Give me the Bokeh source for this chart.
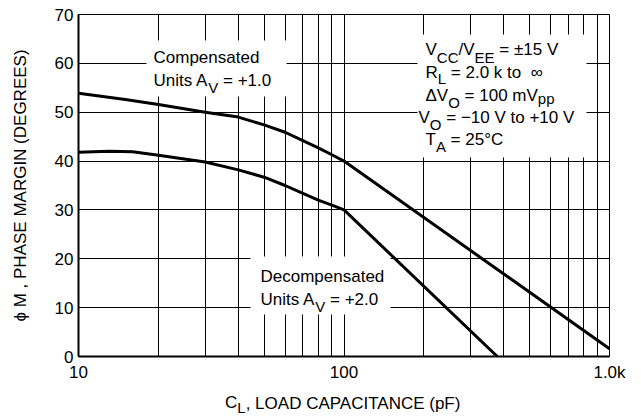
from bokeh.plotting import figure
from bokeh.models import Label, BoxAnnotation, FixedTicker, Range1d
from bokeh.embed import file_html
from bokeh.resources import INLINE

# ---------------- data ----------------
cap_comp = [10, 15, 20, 30, 40, 50, 60, 70, 80, 90, 100, 1000]
phase_comp = [53.9, 52.6, 51.6, 50.0, 49.0, 47.4, 45.9, 44.2, 42.7, 41.3, 40.0, 1.6]

cap_decomp = [10, 13, 16, 20, 30, 40, 50, 60, 70, 80, 90, 100, 378]
phase_decomp = [41.8, 42.0, 41.9, 41.2, 39.8, 38.2, 36.7, 35.0, 33.4, 32.0, 31.0, 30.0, 0.0]

x_ticks = [10, 100, 1000]
x_tick_labels = ["10", "100", "1.0k"]
x_minor = [20, 30, 40, 50, 60, 70, 80, 90, 200, 300, 400, 500, 600, 700, 800, 900]
y_ticks = [0, 10, 20, 30, 40, 50, 60, 70]

FONT = "Liberation Sans"
FS = 17
SUB = 15

# Arial / Liberation Sans advance widths (per 1000 em)
W = {' ': 278, ',': 278, '.': 278, '/': 278, '+': 584, '=': 584, '\u00b1': 584,
     '\u2212': 584, '-': 333, '(': 333, ')': 333, '\u00b0': 400, '\u221e': 713, '\u0394': 668,
     'A': 667, 'B': 667, 'C': 722, 'D': 722, 'E': 667, 'F': 611, 'G': 778, 'H': 722, 'I': 278,
     'K': 667, 'L': 556, 'M': 833, 'N': 722, 'O': 778, 'P': 667, 'R': 722, 'S': 667, 'T': 611,
     'U': 722, 'V': 667, 'a': 556, 'c': 500, 'd': 556, 'e': 556, 'i': 222, 'k': 500, 'm': 833,
     'n': 556, 'o': 556, 'p': 556, 's': 500, 't': 278}
for d in '0123456789':
    W[d] = 556


def tw(s, size):
    return sum(W.get(c, 556) for c in s) * size / 1000.0


# frame position in page pixels
FX, FY, FR = 78, 356, 609
H = 419
BFIX = 6   # measured: labels render this much below the requested baseline

p = figure(width=641, height=H, x_axis_type="log",
           x_range=Range1d(10, 1000), y_range=Range1d(0, 70),
           output_backend="svg", toolbar_location=None,
           min_border_left=78, min_border_right=32,
           min_border_top=14, min_border_bottom=63)

p.background_fill_color = "white"
p.border_fill_color = "white"
p.outline_line_color = "black"
p.outline_line_width = 1

xt = FixedTicker(ticks=x_ticks, minor_ticks=x_minor)
yt = FixedTicker(ticks=y_ticks)
p.xaxis.ticker = xt
p.yaxis.ticker = yt
p.xgrid.ticker = xt
p.ygrid.ticker = yt
p.xaxis.major_label_overrides = dict(zip(x_ticks, x_tick_labels))

p.xgrid.grid_line_color = "black"
p.xgrid.minor_grid_line_color = "black"
p.ygrid.grid_line_color = "black"
p.xgrid.grid_line_width = 1
p.ygrid.grid_line_width = 1

for ax in (p.xaxis, p.yaxis):
    ax.major_tick_in = 0
    ax.major_tick_out = 0
    ax.minor_tick_in = 0
    ax.minor_tick_out = 0
    ax.axis_line_width = 2
    ax.axis_line_color = "black"
    ax.major_label_text_font = FONT
    ax.major_label_text_font_size = f"{FS}px"
    ax.major_label_text_color = "black"
p.xaxis.major_label_standoff = 6
p.yaxis.major_label_standoff = 5

p.yaxis.axis_label = "\u03d5 M , PHASE MARGIN (DEGREES)"
p.yaxis.axis_label_text_font = FONT
p.yaxis.axis_label_text_font_size = f"{FS}px"
p.yaxis.axis_label_text_font_style = "normal"
p.yaxis.axis_label_text_color = "black"
p.yaxis.axis_label_standoff = 22

p.line(cap_comp, phase_comp, line_color="black", line_width=3, line_join="round")
p.line(cap_decomp, phase_decomp, line_color="black", line_width=3, line_join="round")


def box(l, t, r, b):
    p.add_layout(BoxAnnotation(left=l - FX, right=r - FX, top=FY - t, bottom=FY - b,
                               left_units="screen", right_units="screen",
                               top_units="screen", bottom_units="screen",
                               fill_color="white", fill_alpha=1.0, line_color=None))


def mk(text, x, y, size):
    return Label(x=x, y=y + BFIX, x_units="screen", y_units="screen", text=text,
                 text_font=FONT, text_font_size=f"{size}px",
                 text_color="black", text_baseline="alphabetic", text_align="left")


def run(x, y, parts):
    for text, size, dy in parts:
        lead = len(text) - len(text.lstrip(' '))
        t = text.strip(' ')
        if t:
            p.add_layout(mk(t, x + tw(' ' * lead, size) - FX, FY - (y + dy), size))
        x += tw(text, size)


box(146, 40, 286, 96)
run(153, 63, [("Compensated", FS, 0)])
run(153, 86, [("Units A", FS, 0), ("V", SUB, 7), (" = +1.0", FS, 0)])

box(250, 256, 390, 314)
run(260, 282, [("Decompensated", FS, 0)])
run(260, 305, [("Units A", FS, 0), ("V", SUB, 7), (" = +2.0", FS, 0)])

box(417, 34, 586, 157)
run(425, 55, [("V", FS, 0), ("CC", SUB, 8), ("/V", FS, 0), ("EE", SUB, 8), (" = \u00b115 V", FS, 0)])
run(425, 78, [("R", FS, 0), ("L", SUB, 6), (" = 2.0 k to", FS, 0), ("  \u221e", FS, 0)])
run(425, 101, [("\u0394V", FS, 0), ("O", SUB, 7), (" = 100 mV", FS, 0), ("pp", SUB, 3)])
run(418, 123, [("V", FS, 0), ("O", SUB, 7), (" = \u221210 V to +10 V", FS, 0)])
run(425, 145, [("T", FS, 0), ("A", SUB, 7), (" = 25\u00b0C", FS, 0)])

# x axis title: outside the frame, so the pieces live in side panels (not clipped)
XB = 408          # baseline of the x title (page px)
x0 = 343.5 - (tw("C", FS) + tw("L", SUB) + tw(", LOAD CAPACITANCE (pF)", FS)) / 2
wc = round(tw("C", FS))
p.add_layout(mk("C", x0 - FR, FY - XB, FS), "right")
p.add_layout(mk("L", x0 + tw("C", FS) - (FR + wc), FY - (XB + 5), SUB), "right")
xr = x0 + tw("C", FS) + tw("L", SUB)
p.add_layout(mk(", LOAD CAPACITANCE (pF)", xr - FX, 402 - XB, FS), "below")

open("out.html", "w").write(file_html(p, INLINE))
